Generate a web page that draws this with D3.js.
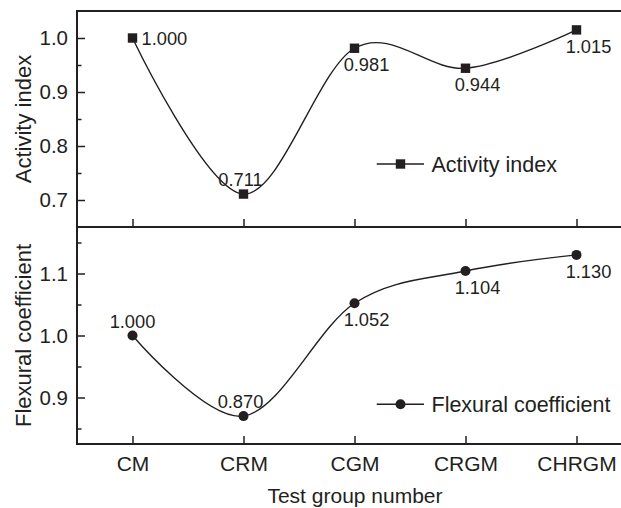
<!DOCTYPE html>
<html>
<head>
<meta charset="utf-8">
<script src="https://cdn.jsdelivr.net/npm/d3@7"></script>
<style>
  body { margin: 0; background: #fff; }
  svg { display: block; font-family: "Liberation Sans", Arial, sans-serif; }
  text { fill: #231f20; }
</style>
</head>
<body>
<div id="chart"></div>
<script>
// data
var groups = ["CM", "CRM", "CGM", "CRGM", "CHRGM"];
var activityIndex = [1.000, 0.711, 0.981, 0.944, 1.015];
var flexuralCoef = [1.000, 0.870, 1.052, 1.104, 1.130];
var activityTicks = [0.7, 0.8, 0.9, 1.0];
var flexuralTicks = [0.9, 1.0, 1.1];

// where each value label sits relative to its marker
var activityLabelPos = ["right", "above", "below", "below", "below"];
var flexuralLabelPos = ["above", "above", "below", "below", "below"];

var ink = "#231f20";
var W = 621, H = 508;
var pLeft = 77, pRight = 632, pTop = 11, pMid = 227, pBottom = 444;

var svg = d3.select("#chart")
    .append("svg")
    .attr("width", W)
    .attr("height", H);

var x = d3.scalePoint()
    .domain(groups)
    .range([pLeft, pRight])
    .padding(0.5);

var yTop = d3.scaleLinear().domain([0.65, 1.05]).range([pMid, pTop]);
var yBot = d3.scaleLinear().domain([0.825, 1.175]).range([pBottom, pMid]);

function panel(y, values, ticks, labelPos, marker, legendText, legendY, showX) {
    var g = svg.append("g");

    // minor ticks on left axis
    var minor = ticks.map(function (t) { return +(t - 0.05).toFixed(3); })
        .concat([+(ticks[ticks.length - 1] + 0.05).toFixed(3)])
        .filter(function (t) { return t > y.domain()[0] && t < y.domain()[1]; });
    g.append("g")
        .attr("transform", "translate(" + pLeft + ",0)")
        .call(d3.axisLeft(y).tickValues(minor).tickSize(-4.5).tickSizeOuter(0).tickFormat(""))
        .call(function (a) { a.select(".domain").remove(); })
        .selectAll("line").attr("stroke", ink).attr("stroke-width", 1.5);

    // major ticks
    g.append("g")
        .attr("transform", "translate(" + pLeft + ",0)")
        .call(d3.axisLeft(y).tickValues(ticks).tickSize(-8).tickSizeOuter(0).tickPadding(9)
            .tickFormat(d3.format(".1f")))
        .call(function (a) {
            a.select(".domain").remove();
            a.selectAll("line").attr("stroke", ink).attr("stroke-width", 1.5);
            a.selectAll("text").attr("font-size", 20.5).attr("fill", ink)
                .style("font-family", "'Liberation Sans', Arial, sans-serif");
        });

    // bottom axis of the panel
    var yBase = y.range()[0];
    g.append("g")
        .attr("transform", "translate(0," + yBase + ")")
        .call(d3.axisBottom(x).tickSize(-8).tickSizeOuter(0).tickPadding(12))
        .call(function (a) {
            a.select(".domain").remove();
            a.selectAll("line").attr("stroke", ink).attr("stroke-width", 1.5);
            a.selectAll("text").attr("font-size", 21).attr("fill", ink)
                .style("font-family", "'Liberation Sans', Arial, sans-serif")
                .style("display", showX ? null : "none");
        });

    // curve
    var line = d3.line()
        .x(function (d, i) { return x(groups[i]); })
        .y(function (d) { return y(d); })
        .curve(d3.curveCardinal.tension(0));
    g.append("path")
        .datum(values)
        .attr("d", line)
        .attr("fill", "none")
        .attr("stroke", ink)
        .attr("stroke-width", 1.4);

    // markers
    function drawMarker(sel, cx, cy) {
        if (marker == "square") {
            sel.append("rect")
                .attr("x", cx - 4.7).attr("y", cy - 4.7)
                .attr("width", 9.4).attr("height", 9.4)
                .attr("fill", ink);
        } else {
            sel.append("circle")
                .attr("cx", cx).attr("cy", cy)
                .attr("r", 5)
                .attr("fill", ink);
        }
    }
    values.forEach(function (v, i) {
        drawMarker(g, x(groups[i]), y(v));
    });

    // value labels
    g.selectAll("text.val")
        .data(values)
        .enter()
        .append("text")
        .attr("class", "val")
        .attr("font-size", 18.3)
        .attr("x", function (d, i) {
            var p = labelPos[i];
            if (p == "right") return x(groups[i]) + 9;
            if (p == "below") return x(groups[i]) + 12;
            return x(groups[i]) - (i == 0 ? 0 : 3);
        })
        .attr("y", function (d, i) {
            var p = labelPos[i];
            if (p == "right") return y(d) + 6.5;
            if (p == "below") return y(d) + 23;
            return y(d) - 8;
        })
        .attr("text-anchor", function (d, i) { return labelPos[i] == "right" ? "start" : "middle"; })
        .text(function (d) { return d3.format(".3f")(d); });

    // legend
    g.append("line")
        .attr("x1", 376.7).attr("x2", 424)
        .attr("y1", legendY).attr("y2", legendY)
        .attr("stroke", ink).attr("stroke-width", 1.4);
    drawMarker(g, 400.5, legendY);
    g.append("text")
        .attr("x", 431.5).attr("y", legendY + 7.5)
        .attr("font-size", 21.5)
        .text(legendText);
}

panel(yTop, activityIndex, activityTicks, activityLabelPos, "square", "Activity index", 164, false);
panel(yBot, flexuralCoef, flexuralTicks, flexuralLabelPos, "circle", "Flexural coefficient", 404.3, true);

// frame lines
var frame = svg.append("g").attr("stroke", ink).attr("stroke-width", 2);
frame.append("line").attr("x1", pLeft).attr("x2", W).attr("y1", pTop).attr("y2", pTop);
frame.append("line").attr("x1", pLeft).attr("x2", W).attr("y1", pMid).attr("y2", pMid);
frame.append("line").attr("x1", pLeft).attr("x2", W).attr("y1", pBottom).attr("y2", pBottom);
frame.append("line").attr("x1", pLeft).attr("x2", pLeft).attr("y1", pTop - 1).attr("y2", pBottom + 1);

// axis titles
svg.append("text")
    .attr("transform", "translate(31," + ((pTop + pMid) / 2) + ") rotate(-90)")
    .attr("text-anchor", "middle")
    .attr("font-size", 22)
    .text("Activity index");
svg.append("text")
    .attr("transform", "translate(31," + ((pMid + pBottom) / 2) + ") rotate(-90)")
    .attr("text-anchor", "middle")
    .attr("font-size", 22)
    .text("Flexural coefficient");
svg.append("text")
    .attr("x", 355)
    .attr("y", 503)
    .attr("text-anchor", "middle")
    .attr("font-size", 21)
    .text("Test group number");
</script>
</body>
</html>
